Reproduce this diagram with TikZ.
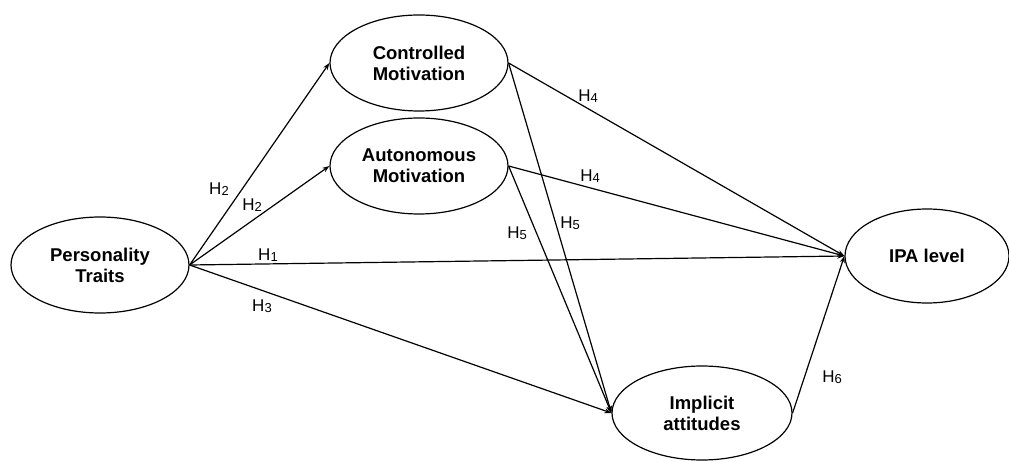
\documentclass[tikz,border=0pt]{standalone}
\usepackage{fontspec}
\setmainfont{Liberation Sans}
\usetikzlibrary{shapes.geometric,arrows.meta}
\begin{document}
\begin{tikzpicture}[x=1pt,y=-1pt,
  latent/.style={ellipse,draw,line width=1.2pt,inner sep=0pt,minimum width=178pt,minimum height=96pt,
    align=center,font=\fontsize{18.5}{21}\selectfont\bfseries},
  path/.style={line width=1.2pt,-{Stealth[length=7pt,width=5pt]}},
  hlab/.style={font=\fontsize{17}{19}\selectfont,inner sep=0pt}]
\useasboundingbox (0,0) rectangle (1009,462);
\node[latent] (pt) at (100,265) {Personality\\Traits};
\node[latent] (cm) at (419,63) {Controlled\\Motivation};
\node[latent] (am) at (419,166) {Autonomous\\Motivation};
\node[latent,minimum width=164pt,minimum height=94pt] (ipa) at (927,256) {IPA level};
\node[latent,minimum width=180pt,minimum height=94pt] (ia) at (702,413) {Implicit\\attitudes};
\newcommand{\hh}[1]{H\raisebox{-0.15ex}{\fontsize{13}{14}\selectfont #1}}
\draw[path] (pt.east) -- (cm.west);
\draw[path] (pt.east) -- (am.west);
\draw[path] (pt.east) -- (ipa.west);
\draw[path] (pt.east) -- (ia.west);
\draw[path] (cm.east) -- (ipa.west);
\draw[path] (cm.east) -- (ia.west);
\draw[path] (am.east) -- (ipa.west);
\draw[path] (am.east) -- (ia.west);
\draw[path] (ia.east) -- (ipa.west);
\node[hlab] (l2a) at (219,189) {\hh{2}};
\node[hlab] (l2b) at (252,205) {\hh{2}};
\node[hlab] (l1) at (268,255) {\hh{1}};
\node[hlab] (l3) at (262,306) {\hh{3}};
\node[hlab] (l4a) at (588,96) {\hh{4}};
\node[hlab] (l4b) at (590,176) {\hh{4}};
\node[hlab] (l5a) at (517,233) {\hh{5}};
\node[hlab] (l5b) at (570,223) {\hh{5}};
\node[hlab] (l6) at (832,377) {\hh{6}};
\end{tikzpicture}
\end{document}
